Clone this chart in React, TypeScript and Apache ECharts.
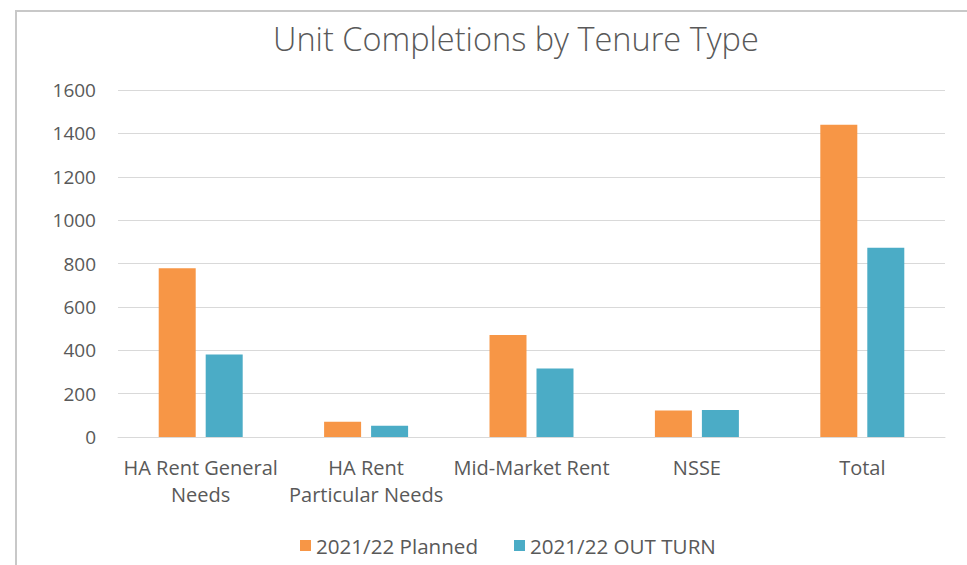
import React, { useEffect, useRef } from "react";
import * as echarts from "echarts";

const categories = [
  "HA Rent General\nNeeds",
  "HA Rent\nParticular Needs",
  "Mid-Market Rent",
  "NSSE",
  "Total",
];
const planned = [778, 70, 470, 122, 1440];
const outTurn = [380, 52, 316, 125, 873];
const seriesNames = ["2021/22 Planned", "2021/22 OUT TURN"];
const titleText = "Unit Completions by Tenure Type";

const FONT = "'Open Sans', 'DejaVu Sans', sans-serif";
const TEXT = "#595959";

export default function App() {
  const ref = useRef<HTMLDivElement>(null);
  useEffect(() => {
    if (!ref.current) return;
    const chart = echarts.init(ref.current, undefined, { renderer: "svg" });
    chart.setOption({
      animation: false,
      backgroundColor: "#ffffff",
      textStyle: { fontFamily: FONT },
      graphic: [
        {
          type: "rect",
          shape: { x: 16, y: 11, width: 1000, height: 600 },
          style: { fill: "none", stroke: "#c8c8c8", lineWidth: 2 },
          silent: true,
        },
      ],
      title: {
        text: titleText,
        left: 268,
        top: 17,
        textStyle: {
          fontFamily: FONT,
          fontSize: 32.5,
          fontWeight: 300,
          color: TEXT,
        },
      },
      legend: {
        data: seriesNames,
        bottom: 4,
        left: 295,
        itemWidth: 11,
        itemHeight: 11,
        itemGap: 36,
        icon: "rect",
        textStyle: { fontFamily: FONT, fontSize: 20.6, color: TEXT },
      },
      grid: { left: 118, right: 22, top: 90, bottom: 128, containLabel: false },
      xAxis: {
        type: "category",
        data: categories,
        axisLine: { lineStyle: { color: "#d9d9d9", width: 1 } },
        axisTick: { show: false },
        axisLabel: {
          fontFamily: FONT,
          fontSize: 20,
          color: TEXT,
          lineHeight: 27,
          margin: 17,
          interval: 0,
        },
      },
      yAxis: {
        type: "value",
        min: 0,
        max: 1600,
        interval: 200,
        axisLine: { show: false },
        axisTick: { show: false },
        splitLine: { lineStyle: { color: "#d9d9d9", width: 1 } },
        axisLabel: {
          fontFamily: FONT,
          fontSize: 19,
          color: TEXT,
          margin: 22,
          formatter: (v: number) => String(v),
        },
      },
      series: [
        {
          name: seriesNames[0],
          type: "bar",
          data: planned,
          barWidth: 37,
          barGap: "27%",
          itemStyle: { color: "#F79646" },
        },
        {
          name: seriesNames[1],
          type: "bar",
          data: outTurn,
          barWidth: 37,
          itemStyle: { color: "#4BACC6" },
        },
      ],
    });
    return () => chart.dispose();
  }, []);
  return (
    <div
      ref={ref}
      style={{ position: "absolute", left: 0, top: 0, width: 967, height: 565 }}
    />
  );
}
